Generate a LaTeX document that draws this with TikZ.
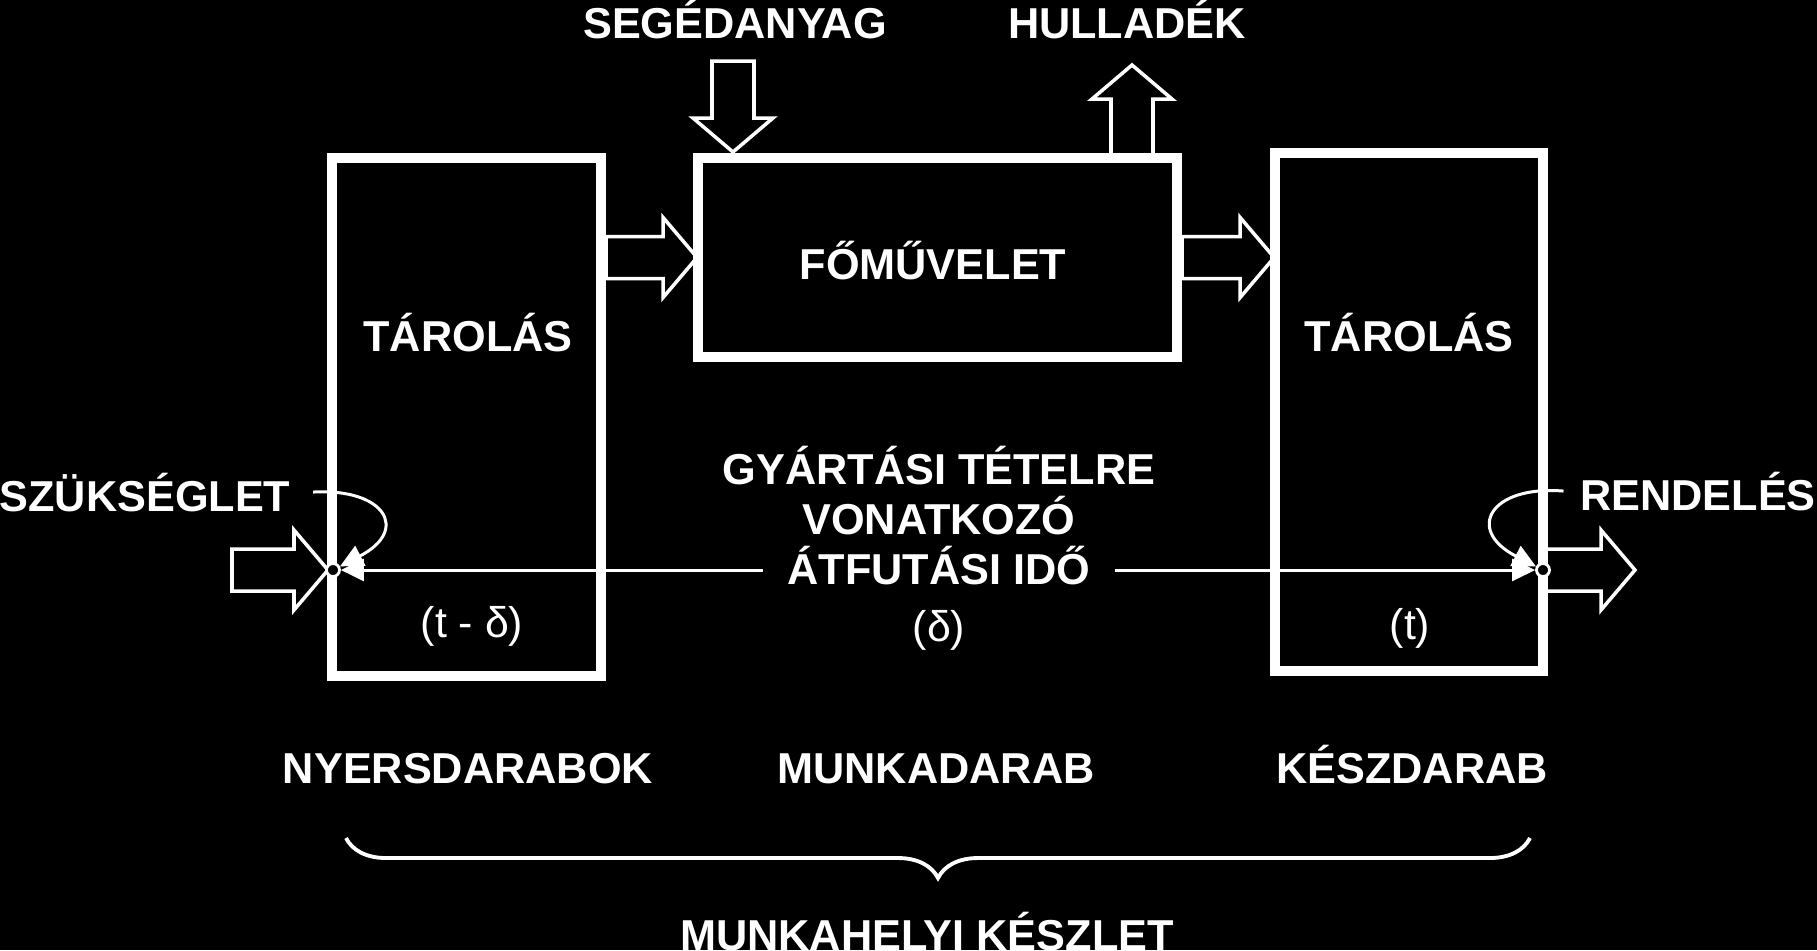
\documentclass[tikz,border=0pt]{standalone}
\usepackage{fontspec}
\setmainfont{Liberation Sans}
\usetikzlibrary{arrows.meta,decorations.pathreplacing}

\begin{document}
\begin{tikzpicture}[
  x=0.01cm, y=-0.01cm,
  doboz/.style={draw=white, line width=0.1cm, inner sep=0pt},
  felirat/.style={text=white, font=\bfseries\fontsize{12.3}{14}\selectfont, anchor=base, inner sep=0pt},
  ido/.style={text=white, font=\fontsize{12.2}{14}\selectfont, anchor=base, inner sep=0pt},
  vonal/.style={draw=white, line width=0.85pt, -{Triangle[length=0.23cm, width=0.22cm]}},
  pont/.style={circle, draw=white, fill=black, line width=0.8pt, minimum size=0.13cm, inner sep=0pt},
  blokk/.style={draw=white, line width=1pt, line join=miter},
  kapocs/.style={draw=white, line width=1.1pt, decorate, decoration={brace, amplitude=0.4cm, mirror}},
  pics/nyil/.style={code={
    \draw[blokk] (0,-21) -- ({#1-34},-21) -- ({#1-34},-40) -- (#1,0)
      -- ({#1-34},40) -- ({#1-34},21) -- (0,21) -- cycle;}}
]
\fill[black] (0,0) rectangle (1817,950);
\useasboundingbox (0,0) rectangle (1817,950);

\node[doboz, minimum width=2.69cm, minimum height=5.18cm] (bal) at (466.5,417) {};
\node[doboz, minimum width=4.79cm, minimum height=1.99cm] (kozep) at (937.5,257.5) {};
\node[doboz, minimum width=2.68cm, minimum height=5.18cm] (jobb) at (1409,412) {};

\pic at (bal.east |- kozep.west) {nyil=91};
\pic at (kozep.east) {nyil=92};
\pic[rotate=-90] at (733,61) {nyil=91};
\pic[rotate=90] at (1132,158) {nyil=93};
\pic at (232,570) {nyil=96};
\pic at (1543,570) {nyil=92};

\node[pont] (lc) at (333,570) {};
\node[pont] (rc) at (1543,570) {};

\node[felirat] (seged) at (735,38) {SEGÉDANYAG};
\node[felirat] (hull) at (1127,38) {HULLADÉK};
\node[felirat] (fomuv) at (933,279) {FŐMŰVELET};
\node[felirat] (tarol1) at (468,351) {TÁROLÁS};
\node[felirat] (tarol2) at (1409,351) {TÁROLÁS};
\node[felirat] (gyart) at (939,484) {GYÁRTÁSI TÉTELRE};
\node[felirat] (vonatk) at (939,534) {VONATKOZÓ};
\node[felirat, inner xsep=0.24cm] (atfut) at (939,584) {ÁTFUTÁSI IDŐ};
\node[ido] (tdelta) at (472,637) {(t - δ)};
\node[ido] (delta) at (939,641) {(δ)};
\node[ido] (tt) at (1410,639) {(t)};
\node[felirat, inner xsep=0.22cm] (szuk) at (145,511) {SZÜKSÉGLET};
\node[felirat, inner xsep=0.16cm] (rend) at (1698,510) {RENDELÉS};
\node[felirat] (nyers) at (468,783) {NYERSDARABOK};
\node[felirat] (munka) at (936,783) {MUNKADARAB};
\node[felirat] (kesz) at (1412,783) {KÉSZDARAB};
\node[felirat] (keszlet) at (927,950) {MUNKAHELYI KÉSZLET};

\draw[vonal] (atfut.west |- lc) -- (lc);
\draw[vonal] (atfut.east |- rc) -- (rc);
\draw[vonal] (szuk.east) .. controls (385,488) and (410,530) .. (lc);
\draw[vonal] (rend.west) .. controls (1490,485) and (1465,530) .. (rc);

\draw[kapocs] (346,838) -- (1530,838);
\end{tikzpicture}
\end{document}
